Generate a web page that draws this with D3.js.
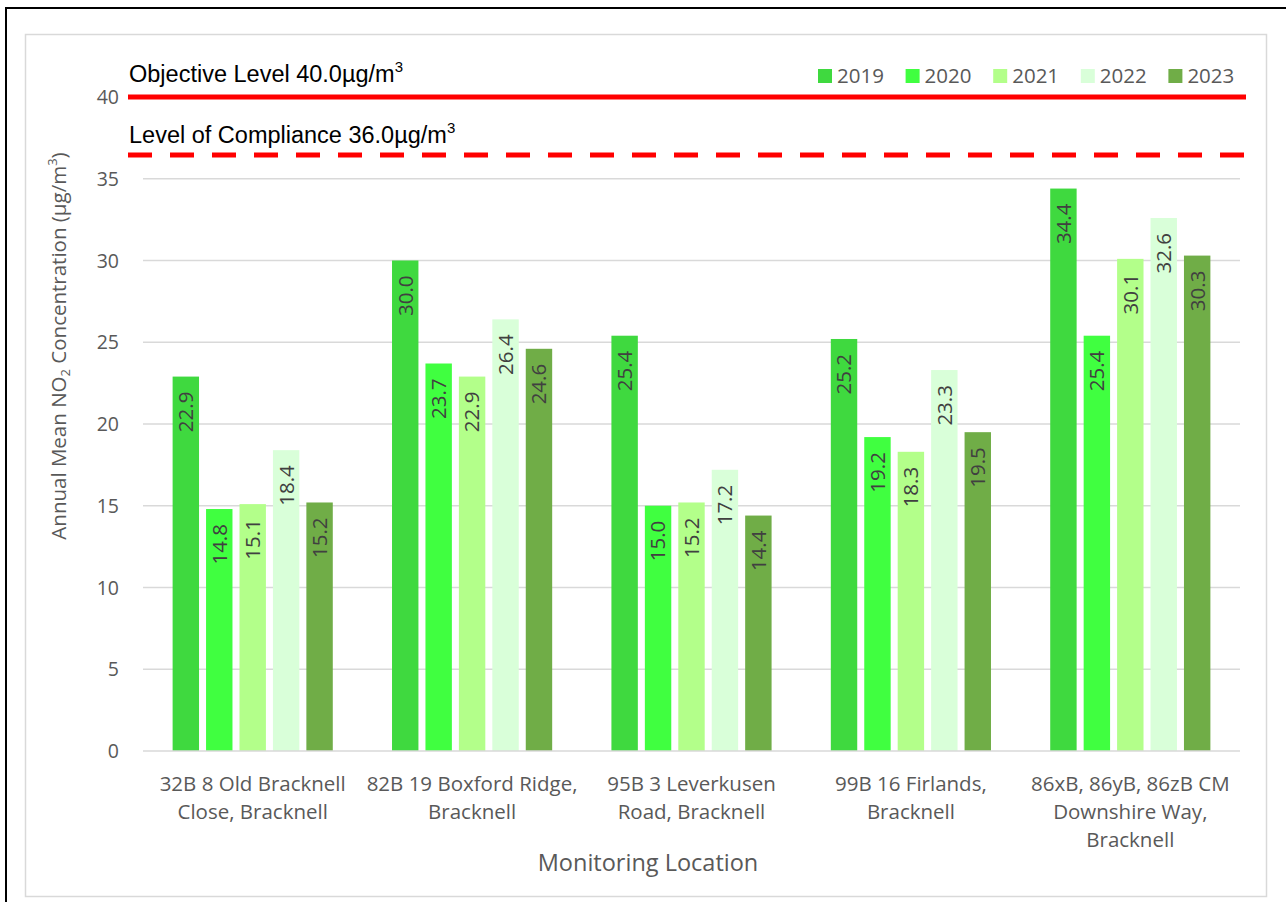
<!DOCTYPE html>
<html>
<head>
<meta charset="utf-8">
<script src="https://cdn.jsdelivr.net/npm/d3@7"></script>
<style>
  body { margin: 0; background: #fff; }
  text { font-family: "Open Sans", sans-serif; }
</style>
</head>
<body>
<svg width="1286" height="902"></svg>
<script>
const svg = d3.select("svg")
const width = +svg.attr("width")
const height = +svg.attr("height")

// data
const locations = [
  ["32B 8 Old Bracknell", "Close, Bracknell"],
  ["82B 19 Boxford Ridge,", "Bracknell"],
  ["95B 3 Leverkusen", "Road, Bracknell"],
  ["99B 16 Firlands,", "Bracknell"],
  ["86xB, 86yB, 86zB CM", "Downshire Way,", "Bracknell"]
]
const years = ["2019", "2020", "2021", "2022", "2023"]
const colors = ["#3fd93f", "#40ff40", "#b3ff8a", "#d9ffd9", "#70ad47"]
const values2019 = [22.9, 30.0, 25.4, 25.2, 34.4]
const values2020 = [14.8, 23.7, 15.0, 19.2, 25.4]
const values2021 = [15.1, 22.9, 15.2, 18.3, 30.1]
const values2022 = [18.4, 26.4, 17.2, 23.3, 32.6]
const values2023 = [15.2, 24.6, 14.4, 19.5, 30.3]
const yTicks = [0, 5, 10, 15, 20, 25, 30, 35, 40]
const objective = 40.0
const compliance = 36.0
const complianceDrawn = 36.45 // line sits a touch above 36 in the original

const series = [values2019, values2020, values2021, values2022, values2023]

// frame: black border top/left, grey chart border
svg.append("path")
  .attr("d", `M6,${height} V8 H${width}`)
  .attr("fill", "none")
  .attr("stroke", "#000")
  .attr("stroke-width", 2)

svg.append("rect")
  .attr("x", 25.5).attr("y", 34.5)
  .attr("width", 1241).attr("height", 862)
  .attr("fill", "none")
  .attr("stroke", "#d9d9d9")
  .attr("stroke-width", 1.5)

// scales
const plot = {left: 143, right: 1240, top: 97, bottom: 751}

const y = d3.scaleLinear().domain([0, 40]).range([plot.bottom, plot.top])
const x0 = d3.scaleBand()
  .domain(d3.range(locations.length))
  .range([plot.left, plot.right])
  .paddingInner(0.27)
  .paddingOuter(0.135)
const x1 = d3.scaleBand()
  .domain(years)
  .range([0, x0.bandwidth()])
  .paddingInner(0.21)

const g = svg.append("g")

// gridlines
g.selectAll("line.grid")
  .data(yTicks.filter(d => d > 0 && d < 40))
  .join("line")
  .attr("class", "grid")
  .attr("x1", plot.left).attr("x2", plot.right)
  .attr("y1", d => y(d)).attr("y2", d => y(d))
  .attr("stroke", "#d9d9d9")
  .attr("stroke-width", 1.5)

// y tick labels
g.selectAll("text.ytick")
  .data(yTicks)
  .join("text")
  .attr("class", "ytick")
  .attr("x", 119)
  .attr("y", d => y(d))
  .attr("dy", "0.36em")
  .attr("text-anchor", "end")
  .attr("fill", "#595959")
  .style("font-size", "19.5px")
  .text(d => d)

// bars
const groups = g.selectAll("g.loc")
  .data(locations.map((l, i) => i))
  .join("g")
  .attr("class", "loc")
  .attr("transform", i => `translate(${x0(i)},0)`)

groups.selectAll("rect")
  .data(i => years.map((yr, k) => ({year: yr, k: k, v: series[k][i]})))
  .join("rect")
  .attr("x", d => x1(d.year))
  .attr("y", d => y(d.v))
  .attr("width", x1.bandwidth())
  .attr("height", d => y(0) - y(d.v))
  .attr("fill", d => colors[d.k])

groups.selectAll("text.val")
  .data(i => years.map((yr, k) => ({year: yr, k: k, v: series[k][i]})))
  .join("text")
  .attr("class", "val")
  .attr("transform", d => `translate(${x1(d.year) + x1.bandwidth() / 2},${y(d.v) + 15}) rotate(-90)`)
  .attr("text-anchor", "end")
  .attr("dy", "0.36em")
  .attr("fill", "#404040")
  .style("font-size", "20.5px")
  .text(d => d.v.toFixed(1))

// x axis baseline
g.append("line")
  .attr("x1", plot.left).attr("x2", plot.right)
  .attr("y1", y(0)).attr("y2", y(0))
  .attr("stroke", "#d9d9d9")
  .attr("stroke-width", 1.5)

// category labels
const catLabels = g.selectAll("text.cat")
  .data(locations)
  .join("text")
  .attr("class", "cat")
  .attr("text-anchor", "middle")
  .attr("fill", "#595959")
  .style("font-size", "20.5px")

catLabels.selectAll("tspan")
  .data((lines, i) => lines.map(t => ({t, i})))
  .join("tspan")
  .attr("x", d => x0(d.i) + x0.bandwidth() / 2)
  .attr("y", (d, j) => 791 + j * 28)
  .text(d => d.t)

// objective & compliance lines
g.append("line")
  .attr("x1", 128).attr("x2", 1246)
  .attr("y1", y(objective)).attr("y2", y(objective))
  .attr("stroke", "#ff0000")
  .attr("stroke-width", 5)

g.append("line")
  .attr("x1", 128).attr("x2", 1246)
  .attr("y1", y(complianceDrawn)).attr("y2", y(complianceDrawn))
  .attr("stroke", "#ff0000")
  .attr("stroke-width", 5)
  .attr("stroke-dasharray", "24,18")

function refLabel(txt, baseline) {
  const t = g.append("text")
    .attr("x", 129)
    .attr("y", baseline)
    .attr("fill", "#000")
    .style("font-family", "'Liberation Sans', Arial, sans-serif")
    .style("font-size", "23.5px")
  t.append("tspan").text(txt)
  t.append("tspan")
    .attr("dy", -10)
    .style("font-size", "15px")
    .text("3")
}
refLabel(`Objective Level ${objective.toFixed(1)}µg/m`, 82)
refLabel(`Level of Compliance ${compliance.toFixed(1)}µg/m`, 143)

// legend
const legend = g.selectAll("g.leg")
  .data(years)
  .join("g")
  .attr("class", "leg")
  .attr("transform", (d, i) => `translate(${818 + i * 87.6},69)`)

legend.append("rect")
  .attr("width", 14).attr("height", 14)
  .attr("fill", (d, i) => colors[i])

legend.append("text")
  .attr("x", 19)
  .attr("y", 14)
  .attr("fill", "#595959")
  .style("font-size", "20.5px")
  .text(d => d)

// axis titles
const yTitle = g.append("text")
  .attr("transform", "translate(66,346) rotate(-90)")
  .attr("text-anchor", "middle")
  .attr("fill", "#595959")
  .style("font-size", "20.5px")
yTitle.append("tspan").text("Annual Mean NO")
yTitle.append("tspan").attr("dy", 4).style("font-size", "13px").text("2")
yTitle.append("tspan").attr("dy", -4).text(" Concentration (µg/m")
yTitle.append("tspan").attr("dy", -9).style("font-size", "13px").text("3")
yTitle.append("tspan").attr("dy", 9).text(")")

g.append("text")
  .attr("x", 648)
  .attr("y", 871)
  .attr("text-anchor", "middle")
  .attr("fill", "#595959")
  .style("font-size", "23.5px")
  .text("Monitoring Location")
</script>
</body>
</html>
